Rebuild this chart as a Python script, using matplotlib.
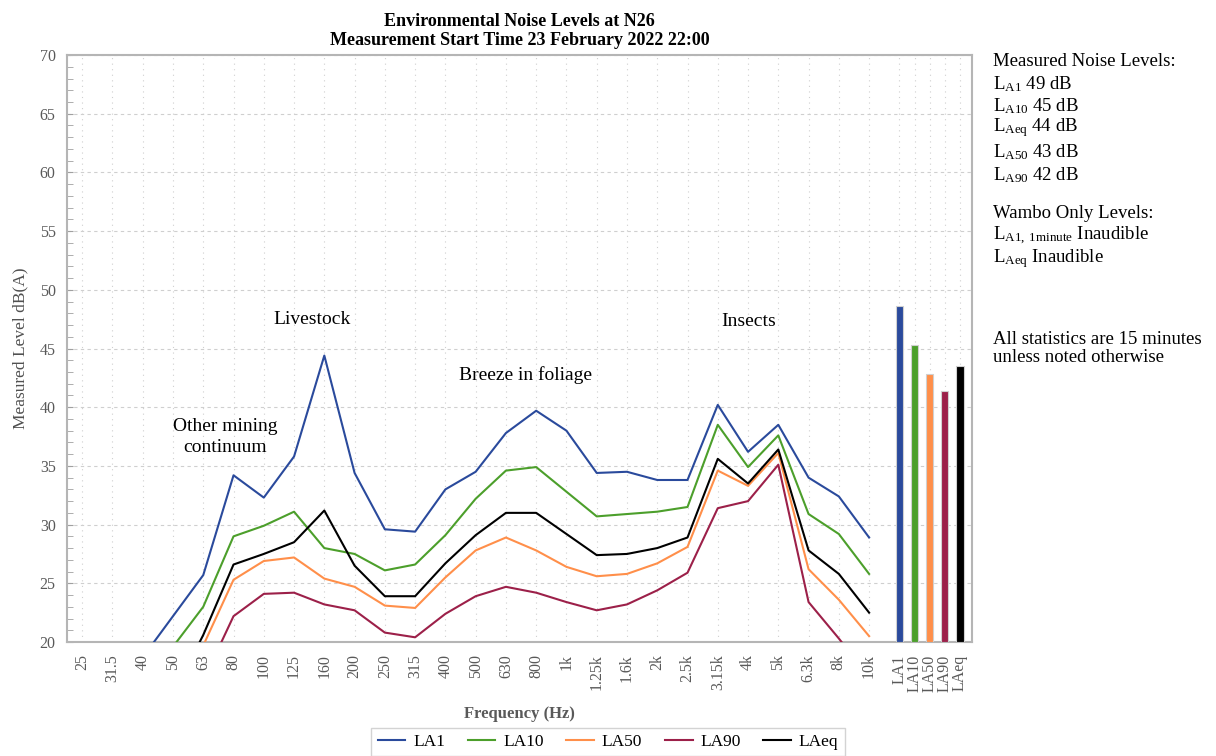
import numpy as np
import matplotlib
matplotlib.use("Agg")
import matplotlib.pyplot as plt

plt.rcParams['font.family'] = ['Liberation Serif', 'DejaVu Serif']
plt.rcParams['mathtext.fontset'] = 'custom'
plt.rcParams['mathtext.rm'] = 'Liberation Serif'

# ---- data ----
bands = ["25", "31.5", "40", "50", "63", "80", "100", "125", "160", "200", "250", "315",
         "400", "500", "630", "800", "1k", "1.25k", "1.6k", "2k", "2.5k", "3.15k", "4k",
         "5k", "6.3k", "8k", "10k"]
LA1 = [14.0, 16.0, 18.7, 22.2, 25.7, 34.2, 32.3, 35.8, 44.4, 34.4, 29.6, 29.4, 33.0, 34.5,
       37.8, 39.7, 38.0, 34.4, 34.5, 33.8, 33.8, 40.2, 36.2, 38.5, 34.0, 32.4, 28.9]
LA10 = [12.0, 14.0, 16.0, 19.6, 23.0, 29.0, 29.9, 31.1, 28.0, 27.5, 26.1, 26.6, 29.1, 32.2,
        34.6, 34.9, 32.8, 30.7, 30.9, 31.1, 31.5, 38.5, 34.9, 37.6, 30.9, 29.2, 25.8]
LA50 = [10.0, 11.0, 12.5, 15.0, 19.7, 25.3, 26.9, 27.2, 25.4, 24.7, 23.1, 22.9, 25.5, 27.8,
        28.9, 27.8, 26.4, 25.6, 25.8, 26.7, 28.1, 34.6, 33.3, 36.1, 26.2, 23.6, 20.5]
LA90 = [8.0, 9.0, 10.0, 12.0, 16.7, 22.2, 24.1, 24.2, 23.2, 22.7, 20.8, 20.4, 22.4, 23.9,
        24.7, 24.2, 23.4, 22.7, 23.2, 24.4, 25.9, 31.4, 32.0, 35.1, 23.4, 20.3, 17.0]
LAeq = [11.0, 12.0, 13.5, 15.5, 20.6, 26.6, 27.5, 28.5, 31.2, 26.5, 23.9, 23.9, 26.7, 29.1,
        31.0, 31.0, 29.2, 27.4, 27.5, 28.0, 28.9, 35.6, 33.5, 36.4, 27.8, 25.8, 22.5]
overall_labels = ["LA1", "LA10", "LA50", "LA90", "LAeq"]
overall_values = [48.6, 45.3, 42.8, 41.4, 43.5]

series_names = ["LA1", "LA10", "LA50", "LA90", "LAeq"]
colors = ["#2a4a9c", "#4c9f2b", "#ff8f4a", "#9c2049", "#000000"]

# ---- figure ----
fig = plt.figure(figsize=(12.16, 7.56), dpi=100)
ax = fig.add_axes([0.0549, 0.1508, 0.7447, 0.7764])

xb = np.arange(len(bands))
xo = len(bands) + 0.5 * np.arange(len(overall_labels))

for name, vals, c in zip(series_names, [LA1, LA10, LA50, LA90, LAeq], colors):
    ax.plot(xb, vals, color=c, lw=1.5, label=name, zorder=3)

ax.bar(xo, np.array(overall_values) - 20, bottom=20, width=0.24, color=colors,
       edgecolor="#d0d0d0", linewidth=0.8, zorder=3)

ax.set_ylim(20, 70)
ax.set_xlim(-0.51, 29.41)
ax.set_yticks(np.arange(20, 71, 5))
ax.set_yticks(np.arange(20, 71, 1), minor=True)
ax.set_xticks(np.concatenate([xb, xo]))
ax.set_xticklabels(bands + overall_labels, rotation=90, fontsize=11.5, color="#595959")
ax.tick_params(axis='x', length=0, pad=9)
ax.tick_params(axis='y', which='both', direction='in', length=4, color="#a0a0a0",
               labelsize=11.5, labelcolor="#595959", pad=8)

ax.grid(axis='y', which='major', color="#cfcfcf", lw=0.8, linestyle=(0, (3, 3)), zorder=0)
ax.grid(axis='x', which='major', color="#cfcfcf", lw=0.8, linestyle=(0, (1, 4)), zorder=0)
ax.set_axisbelow(True)
for s in ax.spines.values():
    s.set_color("#b5b5b5")
    s.set_linewidth(1.5)

ax.set_ylabel("Measured Level dB(A)", fontsize=12.5, color="#505050")
ax.yaxis.set_label_coords(-0.042, 0.5)
ax.set_xlabel("Frequency (Hz)", fontsize=12, fontweight='bold', color="#595959", labelpad=10)
ax.set_title("Environmental Noise Levels at N26\nMeasurement Start Time 23 February 2022 22:00",
             fontsize=13, fontweight='bold', linespacing=1.15, pad=7)

# annotations
ax.text(7.59, 47.5, "Livestock", fontsize=14, ha='center', va='center')
ax.text(4.72, 37.5, "Other mining\ncontinuum", fontsize=14, ha='center', va='center',
        linespacing=1.3)
ax.text(14.66, 42.7, "Breeze in foliage", fontsize=14, ha='center', va='center')
ax.text(22.03, 47.3, "Insects", fontsize=14, ha='center', va='center')

# right-hand text
tx = 993 / 1216
def fy(py):
    return 1 - py / 756
right_lines = [
    (62, "Measured Noise Levels:"),
    (84, r"$\mathregular{L_{A1}}$ 49 dB"),
    (106, r"$\mathregular{L_{A10}}$ 45 dB"),
    (128, r"$\mathregular{L_{Aeq}}$ 44 dB"),
    (152, r"$\mathregular{L_{A50}}$ 43 dB"),
    (175, r"$\mathregular{L_{A90}}$ 42 dB"),
    (214, "Wambo Only Levels:"),
    (236, r"$\mathregular{L_{A1,\,1minute}}$ Inaudible"),
    (259, r"$\mathregular{L_{Aeq}}$ Inaudible"),
    (340, "All statistics are 15 minutes"),
    (358, "unless noted otherwise"),
]
for py, t in right_lines:
    fig.text(tx, fy(py), t, fontsize=13.5, ha='left', va='center')

leg = fig.legend(loc='upper center', bbox_to_anchor=(0.5, fy(728)), ncol=5, fontsize=12.5,
                 frameon=True, fancybox=False, edgecolor="#c8c8c8", handlelength=1.6,
                 handletextpad=0.45, columnspacing=1.3, borderpad=0.35, borderaxespad=0)
leg.get_frame().set_linewidth(1.0)

fig.savefig("out.png", dpi=100)
